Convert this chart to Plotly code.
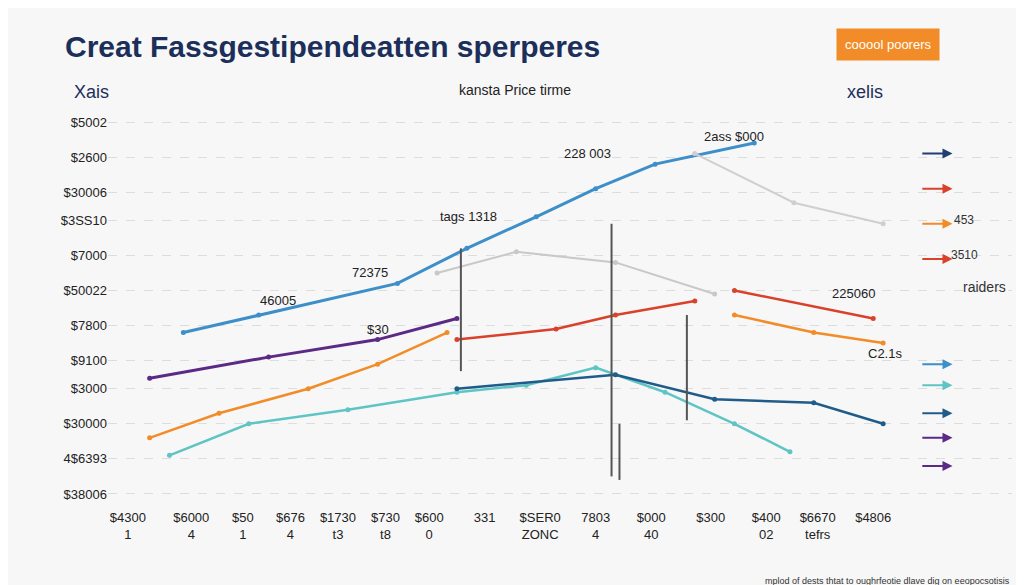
import plotly.graph_objects as go

blue_x = [1.6, 3.5, 7, 8.75, 10.5, 12, 13.5, 16]
blue_y = [46, 51, 60, 70, 79, 87, 94, 100]
purple_x = [0.75, 3.75, 6.5, 8.5]
purple_y = [33, 39, 44, 50]
orange_x = [0.75, 2.5, 4.75, 6.5, 8.25]
orange_y = [16, 23, 30, 37, 46]
teal_x = [1.25, 3.25, 5.75, 8.5, 10.25, 12, 13.75, 15.5, 16.9]
teal_y = [11, 20, 24, 29, 31, 36, 29, 20, 12]
navy_x = [8.5, 12.5, 15, 17.5, 19.25]
navy_y = [30, 34, 27, 26, 20]
red_x = [8.5, 11, 12.5, 14.5]
red_y = [44, 47, 51, 55]
red2_x = [15.5, 19]
red2_y = [58, 50]
orange2_x = [15.5, 17.5, 19.25]
orange2_y = [51, 46, 43]
gray_x = [8, 10, 12.5, 15]
gray_y = [63, 69, 66, 57]
gray2_x = [14.5, 17, 19.25]
gray2_y = [97, 83, 77]

y_ticks = [0, 10, 20, 30, 38, 48, 58, 68, 78, 86, 96, 106]
y_labels = ["$38006", "4$6393", "$30000", "$3000", "$9100", "$7800", "$50022", "$7000",
            "$3SS10", "$30006", "$2600", "$5002"]
x_ticks = [0.2, 1.8, 3.1, 4.3, 5.5, 6.7, 7.8, 9.2, 10.6, 12, 13.4, 14.9, 16.3, 17.6, 19]
x_labels = ["$4300<br>1", "$6000<br>4", "$50<br>1", "$676<br>4", "$1730<br>t3", "$730<br>t8",
            "$600<br>0", "331<br>", "$SER0<br>ZONC", "7803<br>4", "$000<br>40", "$300<br>",
            "$400<br>02", "$6670<br>tefrs", "$4806<br>"]

series = [
    (blue_x, blue_y, "#3d8fc9", 3),
    (purple_x, purple_y, "#5b2a86", 3),
    (orange_x, orange_y, "#f28c28", 2.5),
    (teal_x, teal_y, "#5fc4c4", 2.5),
    (navy_x, navy_y, "#1f5c8a", 2.5),
    (red_x, red_y, "#d9412b", 2.5),
    (red2_x, red2_y, "#d9412b", 2.5),
    (orange2_x, orange2_y, "#f28c28", 2.5),
    (gray_x, gray_y, "#c8c8c8", 2),
    (gray2_x, gray2_y, "#cfcfcf", 2),
]

fig = go.Figure()
for x, y, c, w in series:
    fig.add_trace(go.Scatter(x=x, y=y, mode="lines+markers", line=dict(color=c, width=w),
                             marker=dict(size=5, color=c), showlegend=False))

vlines = [(8.6, 35, 70), (12.4, 5, 77), (14.3, 21, 51), (12.6, 4, 20)]
for xv, y0, y1 in vlines:
    fig.add_shape(type="line", x0=xv, x1=xv, y0=y0, y1=y1, line=dict(color="#555", width=2))

notes = [(4, 55, "46005"), (6.3, 63, "72375"), (8.8, 79, "tags 1318"), (11.8, 97, "228 003"),
         (15.5, 102, "2ass $000"), (6.5, 47, "$30"), (18.5, 57, "225060"), (19.3, 40, "C2.1s")]
for a, b, t in notes:
    fig.add_annotation(x=a, y=b, text=t, showarrow=False, font=dict(size=13, color="#222"))

arrows = [(97, "#1f3f70"), (87, "#d9412b"), (77, "#f28c28"), (67, "#d9412b"), (37, "#3d8fc9"),
          (31, "#5fc4c4"), (23, "#1f5c8a"), (16, "#5b2a86"), (8, "#5b2a86")]
for yy, c in arrows:
    fig.add_annotation(x=21.0, y=yy, ax=20.2, ay=yy, axref="x", ayref="y", xref="x", yref="y",
                       showarrow=True, arrowhead=2, arrowwidth=2, arrowcolor=c, text="")
fig.add_annotation(x=21.3, y=78, text="453", showarrow=False, font=dict(size=12, color="#333"))
fig.add_annotation(x=21.3, y=68, text="3510", showarrow=False, font=dict(size=12, color="#333"))
fig.add_annotation(x=21.8, y=59, text="raiders", showarrow=False, font=dict(size=14, color="#333"))

fig.add_annotation(xref="paper", yref="paper", x=-0.05, y=1.2, xanchor="left",
                   text="<b>Creat Fassgestipendeatten sperperes</b>", showarrow=False,
                   font=dict(size=30, color="#1b2f5a"))
fig.add_annotation(xref="paper", yref="paper", x=-0.04, y=1.07, xanchor="left", text="Xais",
                   showarrow=False, font=dict(size=18, color="#1b2f5a"))
fig.add_annotation(xref="paper", yref="paper", x=0.45, y=1.07, text="kansta Price tirme",
                   showarrow=False, font=dict(size=14, color="#222"))
fig.add_annotation(xref="paper", yref="paper", x=0.86, y=1.07, text="xelis",
                   showarrow=False, font=dict(size=18, color="#1b2f5a"))
fig.add_annotation(xref="paper", yref="paper", x=0.92, y=1.2, text="cooool poorers",
                   showarrow=False, bgcolor="#f28c28", font=dict(size=13, color="white"),
                   borderpad=8)
fig.add_annotation(xref="paper", yref="paper", x=1.0, y=-0.2, xanchor="right",
                   text="mplod of dests thtat to oughrfeotie dlave dig on eeopocsotisis",
                   showarrow=False, font=dict(size=9, color="#333"))

fig.update_layout(
    width=1024, height=585, paper_bgcolor="#f7f7f7", plot_bgcolor="#f7f7f7",
    margin=dict(l=100, r=20, t=100, b=85),
    xaxis=dict(range=[-0.3, 22.5], tickvals=x_ticks, ticktext=x_labels, showgrid=False,
               zeroline=False, tickfont=dict(size=13, color="#222")),
    yaxis=dict(range=[-4, 110], tickvals=y_ticks, ticktext=y_labels, showgrid=True,
               gridcolor="#dddddd", griddash="dash", zeroline=False,
               tickfont=dict(size=13, color="#222")),
    font=dict(family="Liberation Sans"),
)
fig.write_html("out.html")
